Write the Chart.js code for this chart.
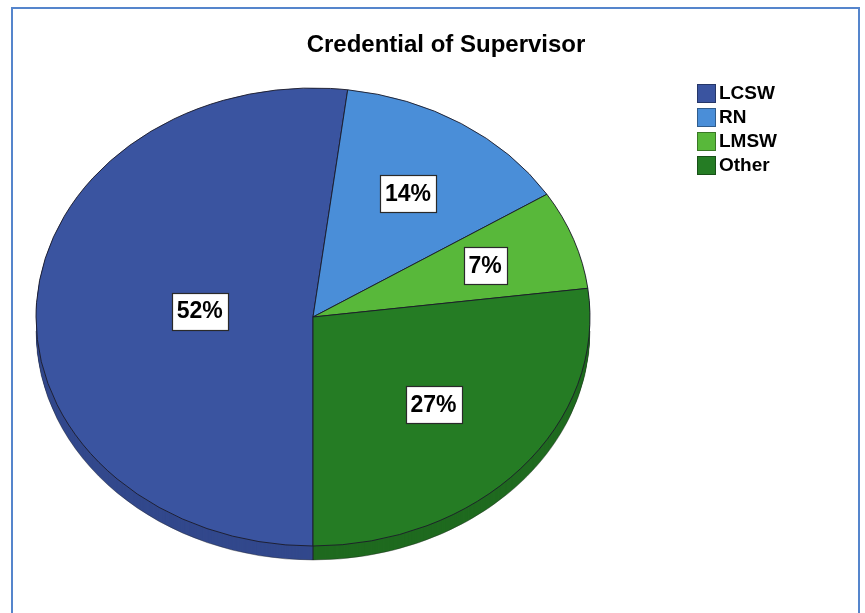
<!DOCTYPE html>
<html>
<head>
<meta charset="utf-8">
<script src="https://cdn.jsdelivr.net/npm/chart.js@4.4.0/dist/chart.umd.min.js"></script>
<style>
    body { margin: 0; background: #fff; font-family: "Liberation Sans", Arial, sans-serif; }
    #wrap { position: relative; width: 865px; height: 613px; overflow: hidden; }
    #frame {
        position: absolute; left: 11px; top: 7px; width: 849px; height: 640px;
        border: 2px solid #5585cc; box-sizing: border-box;
    }
    #title {
        position: absolute; left: 246px; width: 400px; top: 30px;
        text-align: center; font-weight: bold; font-size: 24px; color: #000;
    }
    #legend { position: absolute; left: 697px; top: 81px; }
    .row { display: flex; align-items: center; height: 24px; }
    .swatch { width: 17px; height: 17px; border: 1px solid rgba(0,0,0,0.35); margin-right: 3px; }
    .row span { font-weight: bold; font-size: 19px; line-height: 18px; }
    canvas { position: absolute; left: 0; top: 0; }
</style>
</head>
<body>
<div id="wrap">
    <div id="frame"></div>
    <canvas id="pieChart" width="865" height="613"></canvas>
    <div id="title">Credential of Supervisor</div>
    <div id="legend"></div>
</div>
<script>
const categories = ['LCSW', 'RN', 'LMSW', 'Other'];
const percents = [52, 14, 7, 27];
const sliceColors = ['#3a54a0', '#4a8ed8', '#58b83a', '#257c24'];
const sideColors = ['#32488c', '#3f7bbf', '#4c9f33', '#1f6a1f'];
const labelRadius = [0.41, 0.64, 0.66, 0.58];

const TILT = 229 / 277;   // vertical squash of the pie
const DEPTH = 14;         // thickness of the rim

function squash(ctx, cx, cy) {
    ctx.translate(cx, cy);
    ctx.scale(1, TILT);
    ctx.translate(-cx, -cy);
}

const tiltedPie = {
    id: 'tiltedPie',
    beforeDatasetsDraw(chart) {
        const ctx = chart.ctx;
        const arcs = chart.getDatasetMeta(0).data;
        const cx = arcs[0].x, cy = arcs[0].y, r = arcs[0].outerRadius;

        // side wall, stacked one pixel at a time
        for (let d = DEPTH; d >= 1; d--) {
            arcs.forEach((a, i) => {
                ctx.save();
                ctx.translate(0, d);
                squash(ctx, cx, cy);
                ctx.beginPath();
                ctx.moveTo(cx, cy);
                ctx.arc(cx, cy, r, a.startAngle, a.endAngle);
                ctx.closePath();
                ctx.fillStyle = sideColors[i];
                ctx.fill();
                ctx.restore();
            });
        }

        // bottom rim outline
        ctx.save();
        ctx.translate(0, DEPTH);
        squash(ctx, cx, cy);
        ctx.beginPath();
        ctx.arc(cx, cy, r, 0, Math.PI);
        ctx.restore();
        ctx.strokeStyle = 'rgba(40,40,40,0.5)';
        ctx.lineWidth = 0.8;
        ctx.stroke();

        // seams where slices meet on the front
        arcs.forEach(a => {
            const ang = a.endAngle;
            if (Math.sin(ang) > 0) {
                const x = cx + r * Math.cos(ang);
                const y = cy + r * TILT * Math.sin(ang);
                ctx.beginPath();
                ctx.moveTo(x, y);
                ctx.lineTo(x, y + DEPTH);
                ctx.strokeStyle = '#1c1c2a';
                ctx.lineWidth = 1;
                ctx.stroke();
            }
        });

        ctx.save();
        squash(ctx, cx, cy);
    },
    afterDatasetsDraw(chart) {
        const ctx = chart.ctx;
        ctx.restore();

        const arcs = chart.getDatasetMeta(0).data;
        ctx.font = 'bold 23px "Liberation Sans", Arial, sans-serif';
        ctx.textAlign = 'center';
        ctx.textBaseline = 'middle';
        arcs.forEach((a, i) => {
            const mid = (a.startAngle + a.endAngle) / 2;
            const rr = a.outerRadius * labelRadius[i];
            const x = a.x + rr * Math.cos(mid);
            const y = a.y + rr * TILT * Math.sin(mid);
            const text = percents[i] + '%';
            const w = Math.round(ctx.measureText(text).width + 10);
            const h = 37;
            const bx = Math.round(x - w / 2) + 0.5, by = Math.round(y - h / 2) + 0.5;
            ctx.fillStyle = '#fff';
            ctx.fillRect(bx, by, w, h);
            ctx.strokeStyle = '#2a2a2a';
            ctx.lineWidth = 1.2;
            ctx.strokeRect(bx, by, w, h);
            ctx.fillStyle = '#000';
            ctx.fillText(text, x, y + 1);
        });
    }
};

new Chart(document.getElementById('pieChart'), {
    type: 'pie',
    data: {
        labels: categories,
        datasets: [{
            data: percents,
            backgroundColor: sliceColors,
            borderColor: '#1c1c2a',
            borderWidth: 1,
            radius: 277
        }]
    },
    options: {
        responsive: false,
        animation: false,
        rotation: 180,
        layout: { padding: { left: 36, right: 275, top: 40, bottom: 19 } },
        plugins: {
            legend: { display: false },
            tooltip: { enabled: false }
        }
    },
    plugins: [tiltedPie]
});

const legend = document.getElementById('legend');
categories.forEach((c, i) => {
    legend.innerHTML += `<div class="row"><div class="swatch" style="background:${sliceColors[i]}"></div><span>${c}</span></div>`;
});
</script>
</body>
</html>
